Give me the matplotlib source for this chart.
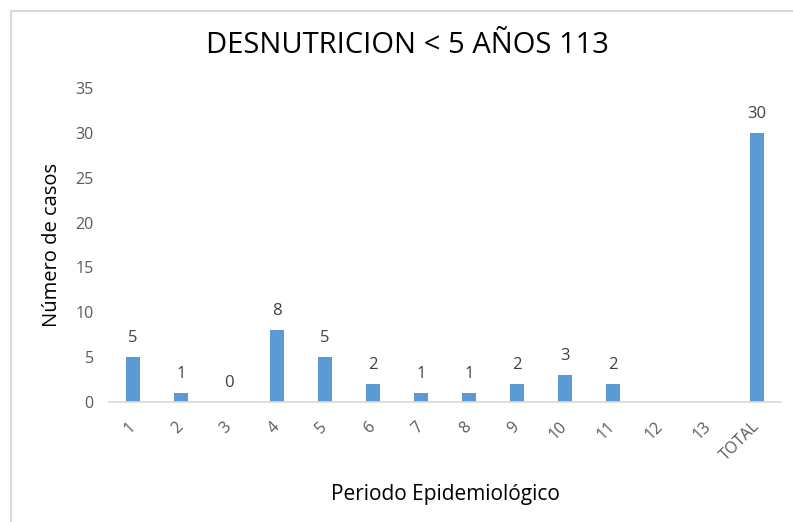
import matplotlib
matplotlib.use("Agg")
import matplotlib.pyplot as plt
from matplotlib.patches import Rectangle

categories = ["1", "2", "3", "4", "5", "6", "7", "8", "9", "10", "11", "12", "13", "TOTAL"]
values = [5, 1, 0, 8, 5, 2, 1, 1, 2, 3, 2, None, None, 30]
yticks = [0, 5, 10, 15, 20, 25, 30, 35]

plt.rcParams['font.family'] = ['Open Sans', 'DejaVu Sans']

fig = plt.figure(figsize=(7.93, 5.22), dpi=100)
fig.patch.set_facecolor("white")
# chart border (left and top visible)
fig.add_artist(Rectangle((11/793, -0.1), 2.0, (522-11)/522 + 0.1, transform=fig.transFigure,
                         fill=False, edgecolor="#D9D9D9", linewidth=1.5))

ax = fig.add_axes([109/793, 120/522, (781-109)/793, (402-88)/522])
x = list(range(len(categories)))
heights = [v if v is not None else 0 for v in values]
ax.bar(x, heights, width=0.31, color="#5B9BD5")
for xi, v in zip(x, values):
    if v is not None:
        ax.annotate(str(v), (xi, v), xytext=(0, 8), textcoords="offset points",
                    ha="center", va="bottom", fontsize=12, color="#404040")

ax.set_xlim(-0.5, len(categories) - 0.5)
ax.set_ylim(0, 35)
ax.set_yticks(yticks)
ax.set_xticks(x)
ax.set_xticklabels(categories, rotation=45, ha="right", va="center",
                   rotation_mode="anchor", fontsize=11.5, color="#595959")
ax.tick_params(axis="y", labelsize=11.5, labelcolor="#595959", length=0, pad=11)
ax.tick_params(axis="x", length=0, pad=16)
for s in ["top", "right", "left"]:
    ax.spines[s].set_visible(False)
ax.spines["bottom"].set_color("#D9D9D9")
ax.spines["bottom"].set_linewidth(1.2)

ax.set_ylabel("Número de casos", fontsize=14.5, color="black", labelpad=10)
ax.set_xlabel("Periodo Epidemiológico", fontsize=15, color="black", labelpad=14)
fig.text(407/793, 1 - 45/522, "DESNUTRICION < 5 AÑOS 113", ha="center", va="center",
         fontsize=21, color="black")

fig.savefig("out.png", dpi=100)
